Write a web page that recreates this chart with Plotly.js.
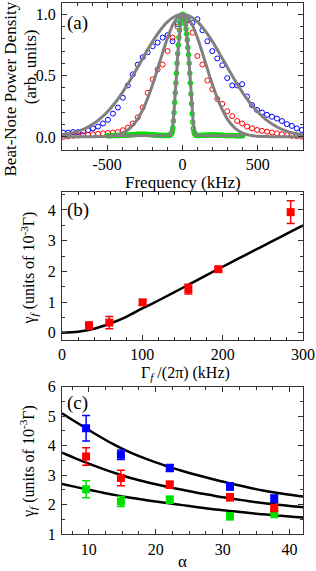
<!DOCTYPE html>
<html>
<head>
<meta charset="utf-8">
<script src="https://cdn.plot.ly/plotly-3.0.1.min.js"></script>
<style>html,body{margin:0;padding:0;background:#fff;}#chart{width:316px;height:571px;}</style>
</head>
<body>
<div id="chart"></div>
<script>
// ---------- Panel (a): beat-note spectra ----------
const freqA = [-792,-759,-726,-693,-660,-627,-594,-561,-528,-495,-462,-429,-396,-363,-330,-297,-264,-231,-198,-165,-132,-99,-66,-33,0,33,66,99,132,165,198,231,264,297,330,363,396,429,462,495,528,561,594,627,660,693,726,759,792];
const blueSpec = [0.035,0.035,0.04,0.04,0.045,0.055,0.07,0.085,0.11,0.14,0.19,0.24,0.32,0.42,0.51,0.59,0.65,0.69,0.74,0.77,0.81,0.83,0.78,0.92,0.99,0.96,0.93,0.96,0.87,0.78,0.70,0.64,0.585,0.48,0.42,0.42,0.43,0.33,0.26,0.22,0.20,0.18,0.165,0.15,0.13,0.105,0.09,0.07,0.057];
const redSpec = [0.0,0.005,0.01,0.012,0.015,0.018,0.022,0.026,0.03,0.033,0.036,0.04,0.055,0.075,0.11,0.16,0.24,0.36,0.47,0.55,0.59,0.70,0.81,0.90,0.97,0.95,0.85,0.66,0.59,0.46,0.39,0.31,0.27,0.21,0.17,0.13,0.11,0.085,0.07,0.057,0.05,0.043,0.036,0.03,0.022,0.016,0.01,0.006,0.003];
const greenFreq = [-500,-490,-480,-470,-460,-450,-440,-430,-420,-410,-400,-390,-380,-370,-360,-350,-340,-330,-320,-310,-300,-290,-280,-270,-260,-250,-240,-230,-220,-210,-200,-190,-180,-170,-160,-150,-140,-130,-120,-110,-100,
-96,-92,-88,-84,-80,-76,-72,-68,-64,-60,-56,-52,-48,-44,-40,-36,-32,-28,-24,-20,-16,-12,-8,-4,0,4,8,12,16,20,24,28,32,36,40,44,48,52,56,60,64,68,72,76,80,84,88,92,96,
100,110,120,130,140,150,160,170,180,190,200,210,220,230,240,250,260,270,280,290,300,310,320,330,340,350,360,370,380,390,400];
const greenSpec = [0.010,0.010,0.011,0.011,0.012,0.012,0.012,0.013,0.013,0.014,0.014,0.015,0.015,0.016,0.016,0.017,0.018,0.019,
0.02,0.021,0.022,0.022,0.023,0.023,0.023,0.022,0.022,0.021,0.02,0.019,0.018,0.017,0.016,
0.015,0.014,0.014,0.013,0.013,0.012,0.012,0.012,
0.012,0.013,0.014,0.016,0.019,0.024,0.032,0.045,0.075,0.13,0.2,0.28,0.36,0.44,0.52,0.6,0.68,0.75,0.81,0.87,0.92,0.955,0.98,0.995,1.0,0.995,0.985,0.97,0.95,0.92,0.88,0.84,0.79,0.73,0.67,0.6,0.52,0.44,0.35,0.27,0.19,0.12,0.07,0.042,0.028,0.021,0.017,0.015,0.014,
0.013,0.013,0.013,0.014,0.014,0.015,0.015,0.016,0.016,0.017,0.017,0.017,0.016,0.016,0.015,0.015,0.014,0.014,0.013,0.013,0.013,0.012,0.012,0.012,0.012,0.011,0.011,0.011,0.011,0.010,0.010];
const fitFreq = [-800,-750,-700,-650,-600,-550,-500,-450,-400,-350,-300,-250,-200,-150,-100,-50,0,50,100,150,200,250,300,350,400,450,500,550,600,650,700,750,800];
const blueFit = [0.017,0.028,0.044,0.067,0.101,0.145,0.203,0.275,0.36,0.458,0.563,0.671,0.775,0.866,0.938,0.984,1.0,0.984,0.938,0.866,0.775,0.671,0.563,0.458,0.36,0.275,0.203,0.145,0.101,0.067,0.044,0.028,0.017];
const redFit = [0.002,0.002,0.002,0.002,0.002,0.003,0.006,0.013,0.031,0.071,0.142,0.259,0.421,0.615,0.805,0.947,1.0,0.947,0.805,0.615,0.421,0.259,0.142,0.071,0.031,0.013,0.006,0.003,0.002,0.002,0.002,0.002,0.002];
const greenFitFreq = [-500,-300,-150,-100,-90,-80,-70,-60,-50,-40,-30,-20,-10,0,10,20,30,40,50,60,70,80,90,100,150,300,400];
const greenFit = [0.01,0.01,0.01,0.01,0.013,0.02,0.05,0.14,0.30,0.50,0.70,0.86,0.96,1.0,0.985,0.93,0.82,0.68,0.50,0.31,0.13,0.045,0.018,0.012,0.01,0.01,0.01];
const ticksA = [-500, 0, 500];
const tickTextA = ['-500', '0', '500'];

// ---------- Panel (b) ----------
const gammaB = [33.6, 58.9, 100.4, 157.3, 194.6, 284.7];
const rateB = [0.23, 0.33, 0.99, 1.42, 2.07, 3.93];
const rateBErr = [0.12, 0.2, 0.08, 0.16, 0.06, 0.37];
const fitBX = [0,20,40,60,80,100,120,140,160,180,200,220,240,260,280,300];
const fitBY = [0,0.03,0.13,0.30,0.52,0.79,1.05,1.32,1.6,1.88,2.15,2.42,2.69,2.96,3.23,3.5];

// ---------- Panel (c) ----------
const alphaC = [9.6, 14.8, 22.1, 31.1, 37.7];
const blueC = [4.59, 3.69, 3.24, 2.61, 2.20];
const blueCErr = [0.43, 0.16, 0.12, 0.12, 0.12];
const redC = [3.63, 2.90, 2.67, 2.25, 1.88];
const redCErr = [0.30, 0.26, 0.12, 0.12, 0.12];
const greenC = [2.52, 2.10, 2.16, 1.60, 1.71];
const greenCErr = [0.29, 0.17, 0.12, 0.12, 0.15];
const fitAlpha = [6,8,10,12,14,16,18,20,22,24,26,28,30,32,34,36,38,40,42];
const fitTop = [5.10,4.81,4.53,4.26,4.01,3.79,3.60,3.43,3.28,3.14,3.01,2.89,2.78,2.67,2.57,2.48,2.40,2.33,2.27];
const fitMid = [3.76,3.57,3.39,3.22,3.06,2.92,2.80,2.69,2.59,2.50,2.41,2.33,2.25,2.18,2.11,2.05,2.00,1.95,1.91];
const fitBot = [2.70,2.60,2.50,2.41,2.32,2.24,2.17,2.10,2.04,1.98,1.92,1.86,1.81,1.76,1.71,1.67,1.63,1.59,1.56];

const FONT = 'Liberation Serif, serif';
const BLUE = '#0000ff', RED = '#ff0000', GREEN = '#00e000', GRAY = '#808080';

function openCircles(x, y, color, xa, ya, size, w) {
  return {x, y, xaxis: xa, yaxis: ya, type: 'scatter', mode: 'markers',
    marker: {symbol: 'circle-open', size: size, color: color, line: {width: w, color: color}}};
}
function line(x, y, color, width, xa, ya, smooth) {
  return {x, y, xaxis: xa, yaxis: ya, type: 'scatter', mode: 'lines',
    line: {color: color, width: width, shape: smooth ? 'spline' : 'linear', smoothing: 1}};
}
function squares(x, y, err, color, xa, ya) {
  return {x, y, xaxis: xa, yaxis: ya, type: 'scatter', mode: 'markers',
    marker: {symbol: 'square', size: 8, color: color},
    error_y: {type: 'data', array: err, visible: true, color: color, thickness: 1.5, width: 4}};
}

const traces = [
  openCircles(freqA, blueSpec, BLUE, 'x', 'y', 5, 1),
  openCircles(freqA, redSpec, RED, 'x', 'y', 5, 1),
  openCircles(greenFreq, greenSpec, GREEN, 'x', 'y', 4, 1.5),
  line(fitFreq, blueFit, GRAY, 3, 'x', 'y', true),
  line(fitFreq, redFit, GRAY, 3, 'x', 'y', true),
  line(greenFitFreq, greenFit, GRAY, 3, 'x', 'y', false),
  line(fitBX, fitBY, '#000', 2.5, 'x2', 'y2', true),
  squares(gammaB, rateB, rateBErr, RED, 'x2', 'y2'),
  line(fitAlpha, fitTop, '#000', 2.5, 'x3', 'y3', true),
  line(fitAlpha, fitMid, '#000', 2.5, 'x3', 'y3', true),
  line(fitAlpha, fitBot, '#000', 2.5, 'x3', 'y3', true),
  squares(alphaC, greenC, greenCErr, GREEN, 'x3', 'y3'),
  squares(alphaC, redC, redCErr, RED, 'x3', 'y3'),
  squares(alphaC, blueC, blueCErr, BLUE, 'x3', 'y3')
];

function axis(extra) {
  return Object.assign({
    showline: true, linecolor: '#333', linewidth: 1, mirror: 'ticks',
    ticks: 'inside', ticklen: 5, tickcolor: '#333', tickwidth: 1,
    showgrid: false, zeroline: false, ticklabelstandoff: 2,
    tickfont: {family: FONT, size: 16, color: '#000'}
  }, extra);
}
function minor(d) { return {dtick: d, ticks: 'inside', ticklen: 3, tickcolor: '#333', tickwidth: 1, showgrid: false}; }

function ann(text, x, y, size, angle) {
  const a = {text: text, xref: 'paper', yref: 'paper', x: x, y: y, xanchor: 'center', yanchor: 'middle',
    showarrow: false, font: {family: FONT, size: size, color: '#000'}};
  if (angle) a.textangle = angle;
  return a;
}

const layout = {
  width: 316, height: 571,
  margin: {l: 62, r: 13, t: 3, b: 37},
  paper_bgcolor: '#fff', plot_bgcolor: '#fff',
  showlegend: false,
  font: {family: FONT, size: 16, color: '#000'},
  xaxis: axis({anchor: 'y', domain: [0, 1], range: [-800, 800], tickmode: 'array', tickvals: ticksA, ticktext: tickTextA, minor: minor(100), ticklabelstandoff: 0}),
  yaxis: axis({anchor: 'x', domain: [0.7232, 1], range: [-0.106, 1.092], tickvals: [0, 0.5, 1], tickmode: 'array', ticktext: ['0.0', '0.5', '1.0'], minor: minor(0.1)}),
  xaxis2: axis({anchor: 'y2', domain: [0, 1], range: [0, 300], dtick: 100, tick0: 0, minor: minor(20), ticklabelstandoff: 0}),
  yaxis2: axis({anchor: 'x2', domain: [0.3653, 0.6441], range: [-0.238, 4.587], dtick: 1, tick0: 0, minor: minor(0.5)}),
  xaxis3: axis({anchor: 'y3', domain: [0, 1], range: [6, 42], dtick: 10, tick0: 0, minor: minor(2.5), ticklabelstandoff: 1}),
  yaxis3: axis({anchor: 'x3', domain: [0, 0.2774], range: [1, 6], dtick: 1, tick0: 0, minor: minor(0.5)}),
  annotations: [
    ann('(a)', 0.066, 0.962, 19),
    ann('(b)', 0.066, 0.610, 19),
    ann('(c)', 0.066, 0.2467, 19),
    ann('Beat-Note Power Density', -0.2158, 0.839, 17, -90),
    ann('(arb. units)', -0.1328, 0.881, 17, -90),
    ann('Frequency (kHz)', 0.502, 0.6625, 17),
    ann('γ<sub><i>f</i></sub> (units of 10<sup>-3</sup>Γ)', -0.141, 0.500, 16, -90),
    ann('Γ<sub><i>f</i></sub> /(2π) (kHz)', 0.514, 0.303, 16),
    ann('γ<sub><i>f</i></sub> (units of 10<sup>-3</sup>Γ)', -0.141, 0.1356, 16, -90),
    ann('α', 0.498, -0.051, 17)
  ]
};

Plotly.newPlot('chart', traces, layout, {staticPlot: true, displayModeBar: false});
</script>
</body>
</html>
